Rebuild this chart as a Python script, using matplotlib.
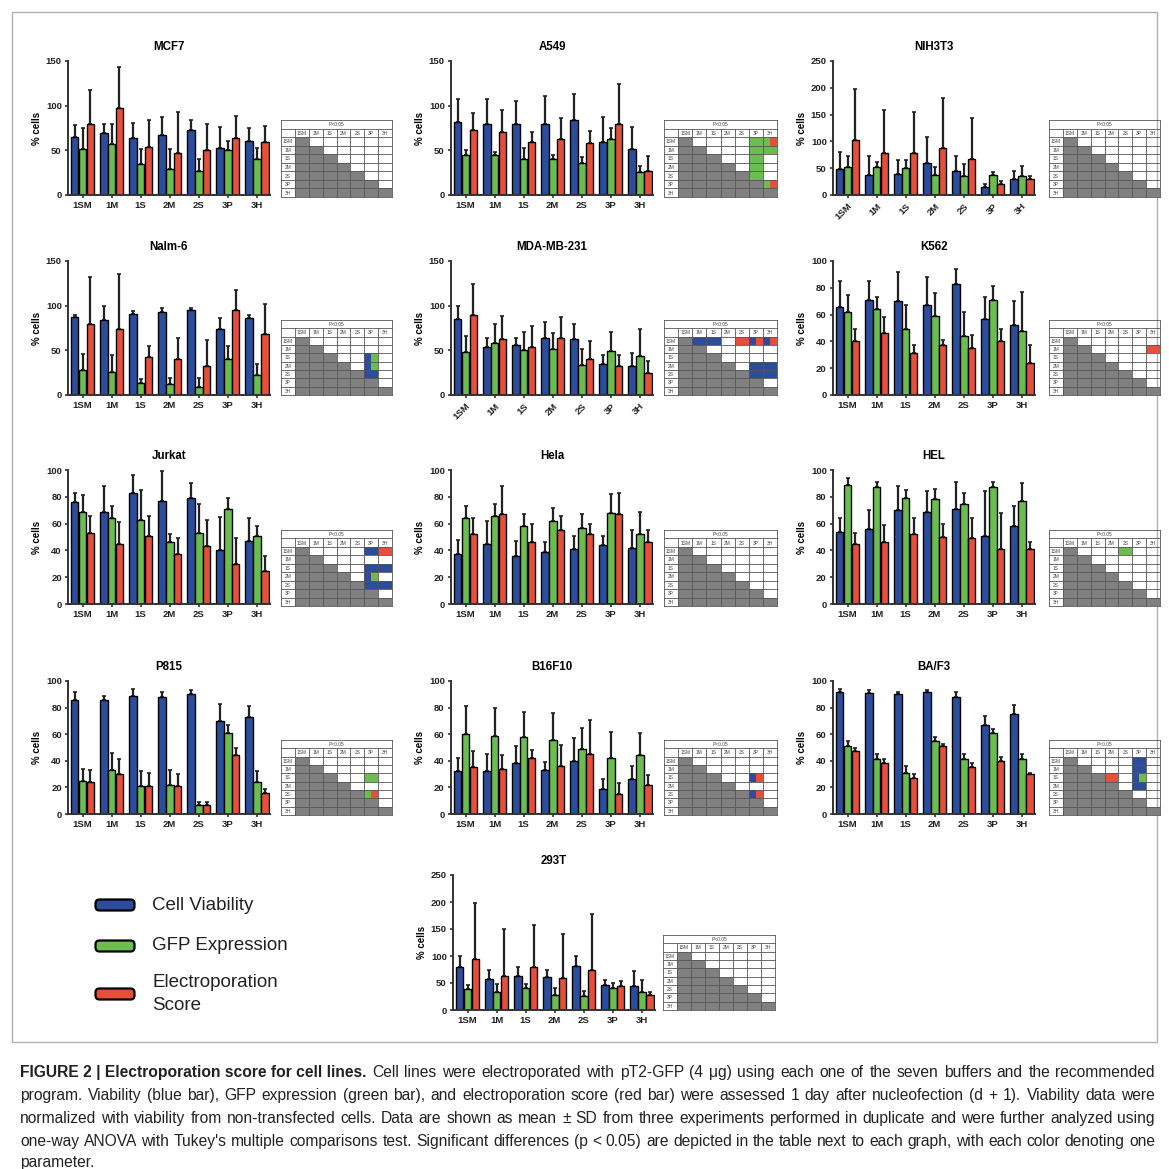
import matplotlib
matplotlib.use("Agg")
import numpy as np
import matplotlib.pyplot as plt
from matplotlib.patches import Rectangle, FancyBboxPatch

plt.rcParams['font.family'] = ['Liberation Sans', 'DejaVu Sans']

buffers = ['1SM', '1M', '1S', '2M', '2S', '3P', '3H']

# mean and SD per buffer: viability (blue), GFP (green), electroporation score (red)
mcf7_viab = [65, 69, 64, 67, 73, 53, 60]
mcf7_viab_sd = [13, 10, 17, 20, 11, 23, 15]
mcf7_gfp = [51, 57, 35, 29, 27, 50, 40]
mcf7_gfp_sd = [24, 23, 17, 23, 13, 11, 13]
mcf7_score = [80, 97, 54, 47, 50, 64, 59]
mcf7_score_sd = [37, 46, 30, 46, 29, 24, 18]

a549_viab = [82, 79, 79, 80, 84, 59, 51]
a549_viab_sd = [26, 29, 26, 31, 29, 28, 25]
a549_gfp = [45, 45, 40, 40, 36, 63, 26]
a549_gfp_sd = [5, 3, 13, 5, 7, 12, 6]
a549_score = [73, 70, 59, 63, 58, 79, 27]
a549_score_sd = [19, 25, 11, 23, 14, 45, 17]

nih3t3_viab = [49, 37, 39, 60, 45, 14, 30]
nih3t3_viab_sd = [31, 35, 27, 49, 27, 7, 14]
nih3t3_gfp = [52, 52, 51, 37, 35, 38, 36]
nih3t3_gfp_sd = [20, 10, 15, 16, 23, 5, 19]
nih3t3_score = [102, 78, 79, 87, 68, 20, 30]
nih3t3_score_sd = [96, 80, 75, 94, 75, 6, 6]

nalm6_viab = [87, 84, 91, 93, 95, 74, 86]
nalm6_viab_sd = [3, 16, 3, 4, 2, 12, 3]
nalm6_gfp = [28, 26, 13, 12, 9, 40, 22]
nalm6_gfp_sd = [18, 19, 5, 7, 10, 15, 13]
nalm6_score = [80, 74, 42, 40, 32, 95, 68]
nalm6_score_sd = [52, 62, 13, 24, 30, 22, 34]

mda_viab = [85, 54, 56, 64, 63, 35, 33]
mda_viab_sd = [15, 10, 8, 18, 17, 10, 14]
mda_gfp = [48, 58, 50, 52, 34, 49, 44]
mda_gfp_sd = [18, 21, 20, 17, 17, 22, 30]
mda_score = [89, 63, 54, 64, 40, 33, 25]
mda_score_sd = [35, 25, 23, 23, 20, 12, 13]

k562_viab = [66, 71, 70, 67, 83, 57, 52]
k562_viab_sd = [19, 14, 22, 21, 11, 16, 18]
k562_gfp = [62, 64, 49, 59, 44, 71, 48]
k562_gfp_sd = [13, 9, 18, 17, 18, 10, 29]
k562_score = [40, 46, 31, 37, 35, 40, 24]
k562_score_sd = [9, 12, 6, 4, 10, 9, 13]

jurkat_viab = [76, 69, 83, 77, 79, 40, 47]
jurkat_viab_sd = [7, 19, 13, 22, 11, 25, 17]
jurkat_gfp = [69, 64, 63, 46, 53, 71, 51]
jurkat_gfp_sd = [12, 9, 22, 6, 22, 8, 7]
jurkat_score = [53, 45, 51, 37, 43, 30, 25]
jurkat_score_sd = [13, 16, 15, 12, 20, 19, 11]

hela_viab = [37, 45, 36, 39, 41, 44, 42]
hela_viab_sd = [11, 17, 11, 7, 10, 7, 13]
hela_gfp = [64, 66, 58, 62, 57, 68, 52]
hela_gfp_sd = [9, 9, 9, 10, 10, 14, 17]
hela_score = [52, 67, 46, 55, 52, 67, 46]
hela_score_sd = [12, 21, 14, 11, 8, 16, 9]

hel_viab = [54, 56, 70, 69, 71, 51, 58]
hel_viab_sd = [10, 14, 18, 15, 20, 33, 15]
hel_gfp = [89, 87, 79, 78, 75, 87, 77]
hel_gfp_sd = [5, 4, 6, 8, 8, 4, 13]
hel_score = [45, 46, 52, 50, 49, 41, 41]
hel_score_sd = [8, 13, 12, 10, 15, 27, 5]

p815_viab = [86, 86, 89, 88, 90, 70, 73]
p815_viab_sd = [6, 3, 5, 4, 3, 13, 8]
p815_gfp = [25, 33, 21, 22, 7, 61, 24]
p815_gfp_sd = [9, 13, 11, 11, 2, 6, 8]
p815_score = [24, 30, 21, 21, 7, 44, 16]
p815_score_sd = [9, 11, 10, 9, 2, 6, 3]

b16_viab = [32, 32, 38, 33, 40, 19, 26]
b16_viab_sd = [10, 13, 13, 6, 17, 7, 10]
b16_gfp = [60, 59, 58, 56, 49, 42, 44]
b16_gfp_sd = [21, 21, 19, 20, 16, 20, 17]
b16_score = [35, 34, 42, 36, 45, 15, 22]
b16_score_sd = [12, 10, 6, 16, 26, 8, 7]

baf3_viab = [92, 91, 90, 92, 88, 67, 75]
baf3_viab_sd = [2, 2, 2, 1, 4, 7, 7]
baf3_gfp = [51, 41, 31, 55, 41, 61, 41]
baf3_gfp_sd = [4, 4, 5, 3, 4, 3, 4]
baf3_score = [47, 38, 27, 51, 35, 40, 30]
baf3_score_sd = [3, 3, 3, 2, 3, 3, 1]

t293_viab = [80, 58, 63, 62, 82, 46, 45]
t293_viab_sd = [20, 17, 17, 13, 18, 9, 27]
t293_gfp = [38, 33, 40, 28, 26, 40, 34]
t293_gfp_sd = [8, 15, 8, 12, 10, 10, 21]
t293_score = [95, 63, 79, 60, 75, 44, 28]
t293_score_sd = [103, 87, 79, 80, 103, 10, 5]

# Tukey significance cells (row, col) -> parameters that differ (b, g, r)
sig_mcf7 = {}
sig_a549 = {(0, 5): 'g', (1, 5): 'g', (2, 5): 'g', (3, 5): 'g', (4, 5): 'g',
            (0, 6): 'gr', (1, 6): 'g', (5, 6): 'gr'}
sig_nih3t3 = {}
sig_nalm6 = {(2, 5): 'bg', (3, 5): 'bg', (4, 5): 'b'}
sig_mda = {(0, 1): 'b', (0, 2): 'b', (0, 4): 'r', (0, 5): 'br', (0, 6): 'br',
           (3, 5): 'b', (3, 6): 'b', (4, 5): 'b', (4, 6): 'b'}
sig_k562 = {(1, 6): 'r'}
sig_jurkat = {(0, 5): 'b', (0, 6): 'r', (2, 5): 'b', (2, 6): 'b', (3, 5): 'bg',
              (4, 5): 'b', (4, 6): 'b'}
sig_hela = {}
sig_hel = {(0, 4): 'g'}
sig_p815 = {(2, 5): 'g', (4, 5): 'gr'}
sig_b16 = {(2, 5): 'br', (4, 5): 'br'}
sig_baf3 = {(2, 3): 'r', (0, 5): 'b', (1, 5): 'b', (2, 5): 'bg', (3, 5): 'b'}
sig_293t = {}

BLUE = '#2c4d9c'
GREEN = '#6cbd4f'
RED = '#e6503a'
GREY = '#808080'
cmap = {'b': BLUE, 'g': GREEN, 'r': RED}

W = H = 1169
fig = plt.figure(figsize=(W / 100, H / 100), dpi=100)


def px_axes(x0, y0, x1, y1):
    return fig.add_axes([x0 / W, 1 - y1 / H, (x1 - x0) / W, (y1 - y0) / H])


def bar_panel(x0, ytop, ybot, title, viab, viab_sd, gfp, gfp_sd, score, score_sd,
              ymax, ystep, rotate=False):
    ax = px_axes(x0, ytop, x0 + 202, ybot)
    x = np.arange(len(buffers))
    for off, vals, sd, c in [(-0.27, viab, viab_sd, BLUE),
                             (0.0, gfp, gfp_sd, GREEN),
                             (0.27, score, score_sd, RED)]:
        ax.errorbar(x + off, vals, yerr=[np.zeros(len(sd)), sd], fmt='none',
                    ecolor='#222222', elinewidth=1.6, capsize=1.2, capthick=1.2,
                    zorder=1)
        ax.bar(x + off, vals, width=0.26, color=c, edgecolor='black',
               linewidth=1.0, zorder=2)
    ax.set_xlim(-0.5, 6.45)
    ax.set_ylim(0, ymax)
    ax.set_yticks(np.arange(0, ymax + 1, ystep))
    ax.set_xticks(x)
    if rotate:
        ax.set_xticklabels(buffers, rotation=45, ha='right', rotation_mode='anchor')
    else:
        ax.set_xticklabels(buffers)
    for lab in ax.get_xticklabels() + ax.get_yticklabels():
        lab.set_fontweight('bold')
        lab.set_fontsize(6.8)
        lab.set_color('#222222')
    ax.tick_params(axis='both', length=2.5, width=1.2, color='#333333', pad=2)
    for s in ['top', 'right']:
        ax.spines[s].set_visible(False)
    for s in ['left', 'bottom']:
        ax.spines[s].set_linewidth(1.4)
        ax.spines[s].set_color('#333333')
    ax.set_ylabel('% cells', fontsize=7, fontweight='bold', labelpad=3)
    ax.set_title(title, fontsize=8.3, fontweight='bold', pad=8)
    return ax


def sig_table(x0, y0, x1, y1, sig):
    ax = px_axes(x0, y0, x1, y1)
    ax.set_xlim(0, 8)
    ax.set_ylim(9, 0)
    ax.axis('off')
    for r in range(7):
        for c in range(7):
            if c <= r:
                ax.add_patch(Rectangle((c + 1, r + 2), 1, 1, facecolor=GREY,
                                       edgecolor='none'))
            elif (r, c) in sig:
                cols = sig[(r, c)]
                w = 1 / len(cols)
                for k, ch in enumerate(cols):
                    ax.add_patch(Rectangle((c + 1 + k * w, r + 2), w, 1,
                                           facecolor=cmap[ch], edgecolor='none'))
    lc = '#555555'
    for yy in range(0, 10):
        ax.plot([0, 8], [yy, yy], color=lc, lw=0.6, clip_on=False)
    for xx in range(0, 9):
        ax.plot([xx, xx], [1 if 0 < xx < 8 else 0, 9], color=lc, lw=0.6,
                clip_on=False)
    ax.text(4, 0.55, 'P<0.05', ha='center', va='center', fontsize=3.5, color='#444444')
    for i, b in enumerate(buffers):
        ax.text(i + 1.5, 1.55, b, ha='center', va='center', fontsize=3.5, color='#444444')
        ax.text(0.5, i + 2.55, b, ha='center', va='center', fontsize=3.5, color='#444444')
    return ax


col_x = [68, 451, 833]
tab_x = [(281, 392), (664, 777), (1049, 1160)]
rows = [(61, 195, 120, 197), (261, 395, 320, 395), (470, 604, 530, 606),
        (681, 814, 740, 815)]

panels = [
    ('MCF7', mcf7_viab, mcf7_viab_sd, mcf7_gfp, mcf7_gfp_sd, mcf7_score, mcf7_score_sd, 150, 50, False, sig_mcf7),
    ('A549', a549_viab, a549_viab_sd, a549_gfp, a549_gfp_sd, a549_score, a549_score_sd, 150, 50, False, sig_a549),
    ('NIH3T3', nih3t3_viab, nih3t3_viab_sd, nih3t3_gfp, nih3t3_gfp_sd, nih3t3_score, nih3t3_score_sd, 250, 50, True, sig_nih3t3),
    ('Nalm-6', nalm6_viab, nalm6_viab_sd, nalm6_gfp, nalm6_gfp_sd, nalm6_score, nalm6_score_sd, 150, 50, False, sig_nalm6),
    ('MDA-MB-231', mda_viab, mda_viab_sd, mda_gfp, mda_gfp_sd, mda_score, mda_score_sd, 150, 50, True, sig_mda),
    ('K562', k562_viab, k562_viab_sd, k562_gfp, k562_gfp_sd, k562_score, k562_score_sd, 100, 20, False, sig_k562),
    ('Jurkat', jurkat_viab, jurkat_viab_sd, jurkat_gfp, jurkat_gfp_sd, jurkat_score, jurkat_score_sd, 100, 20, False, sig_jurkat),
    ('Hela', hela_viab, hela_viab_sd, hela_gfp, hela_gfp_sd, hela_score, hela_score_sd, 100, 20, False, sig_hela),
    ('HEL', hel_viab, hel_viab_sd, hel_gfp, hel_gfp_sd, hel_score, hel_score_sd, 100, 20, False, sig_hel),
    ('P815', p815_viab, p815_viab_sd, p815_gfp, p815_gfp_sd, p815_score, p815_score_sd, 100, 20, False, sig_p815),
    ('B16F10', b16_viab, b16_viab_sd, b16_gfp, b16_gfp_sd, b16_score, b16_score_sd, 100, 20, False, sig_b16),
    ('BA/F3', baf3_viab, baf3_viab_sd, baf3_gfp, baf3_gfp_sd, baf3_score, baf3_score_sd, 100, 20, False, sig_baf3),
]

for i, p in enumerate(panels):
    r, c = divmod(i, 3)
    ytop, ybot, ty0, ty1 = rows[r]
    bar_panel(col_x[c], ytop, ybot, *p[:10])
    sig_table(tab_x[c][0], ty0, tab_x[c][1], ty1, p[10])

# 293T sits alone in the middle column
bar_panel(453, 875, 1010, '293T', t293_viab, t293_viab_sd, t293_gfp, t293_gfp_sd,
          t293_score, t293_score_sd, 250, 50)
sig_table(663, 935, 775, 1010, sig_293t)

# frame and legend
overlay = fig.add_axes([0, 0, 1, 1], zorder=-1)
overlay.set_xlim(0, W)
overlay.set_ylim(H, 0)
overlay.axis('off')
overlay.add_patch(Rectangle((12, 12), 1145, 1030, facecolor='none',
                            edgecolor='#b0b0b0', lw=1.0))
for yc, col, lab in [(905, BLUE, 'Cell Viability'), (946, GREEN, 'GFP Expression'),
                     (994, RED, 'Electroporation\nScore')]:
    overlay.add_patch(FancyBboxPatch((97, yc - 4), 36, 8,
                                     boxstyle='round,pad=1.5,rounding_size=4',
                                     facecolor=col, edgecolor='black', lw=1.6))
    overlay.text(152, yc, lab, fontsize=13.5, va='center', ha='left',
                 color='#222222', linespacing=1.45)

# caption, justified between x=20 and x=1155 except the last line
cap_head = 'FIGURE 2 | Electroporation score for cell lines.'
cap_lines = [
    'Cell lines were electroporated with pT2-GFP (4 μg) using each one of the seven buffers and the recommended',
    'program. Viability (blue bar), GFP expression (green bar), and electroporation score (red bar) were assessed 1 day after nucleofection (d + 1). Viability data were',
    'normalized with viability from non-transfected cells. Data are shown as mean ± SD from three experiments performed in duplicate and were further analyzed using',
    "one-way ANOVA with Tukey's multiple comparisons test. Significant differences (p < 0.05) are depicted in the table next to each graph, with each color denoting one",
    'parameter.',
]
cap_base = [1077, 1100, 1123, 1146, 1167]
cap_fs = 11.25
renderer = fig.canvas.get_renderer()


def caption_line(chunks, y, justify=True, x0=20, x1=1155):
    texts = [fig.text(0, 1 - y / H, s, fontsize=cap_fs, fontweight=w, va='baseline',
                      ha='left', color='#222222') for s, w in chunks]
    widths = [t.get_window_extent(renderer).width for t in texts]
    if justify and len(texts) > 1:
        gap = (x1 - x0 - sum(widths)) / (len(texts) - 1)
    else:
        gap = 3
    x = x0
    for t, w in zip(texts, widths):
        t.set_x(x / W)
        x += w + gap


caption_line([(cap_head, 'bold')] + [(s, 'normal') for s in cap_lines[0].split(' ')],
             cap_base[0])
for yy, line in zip(cap_base[1:4], cap_lines[1:4]):
    caption_line([(s, 'normal') for s in line.split(' ')], yy)
caption_line([(cap_lines[4], 'normal')], cap_base[4], justify=False)

fig.savefig('out.png', dpi=100)
